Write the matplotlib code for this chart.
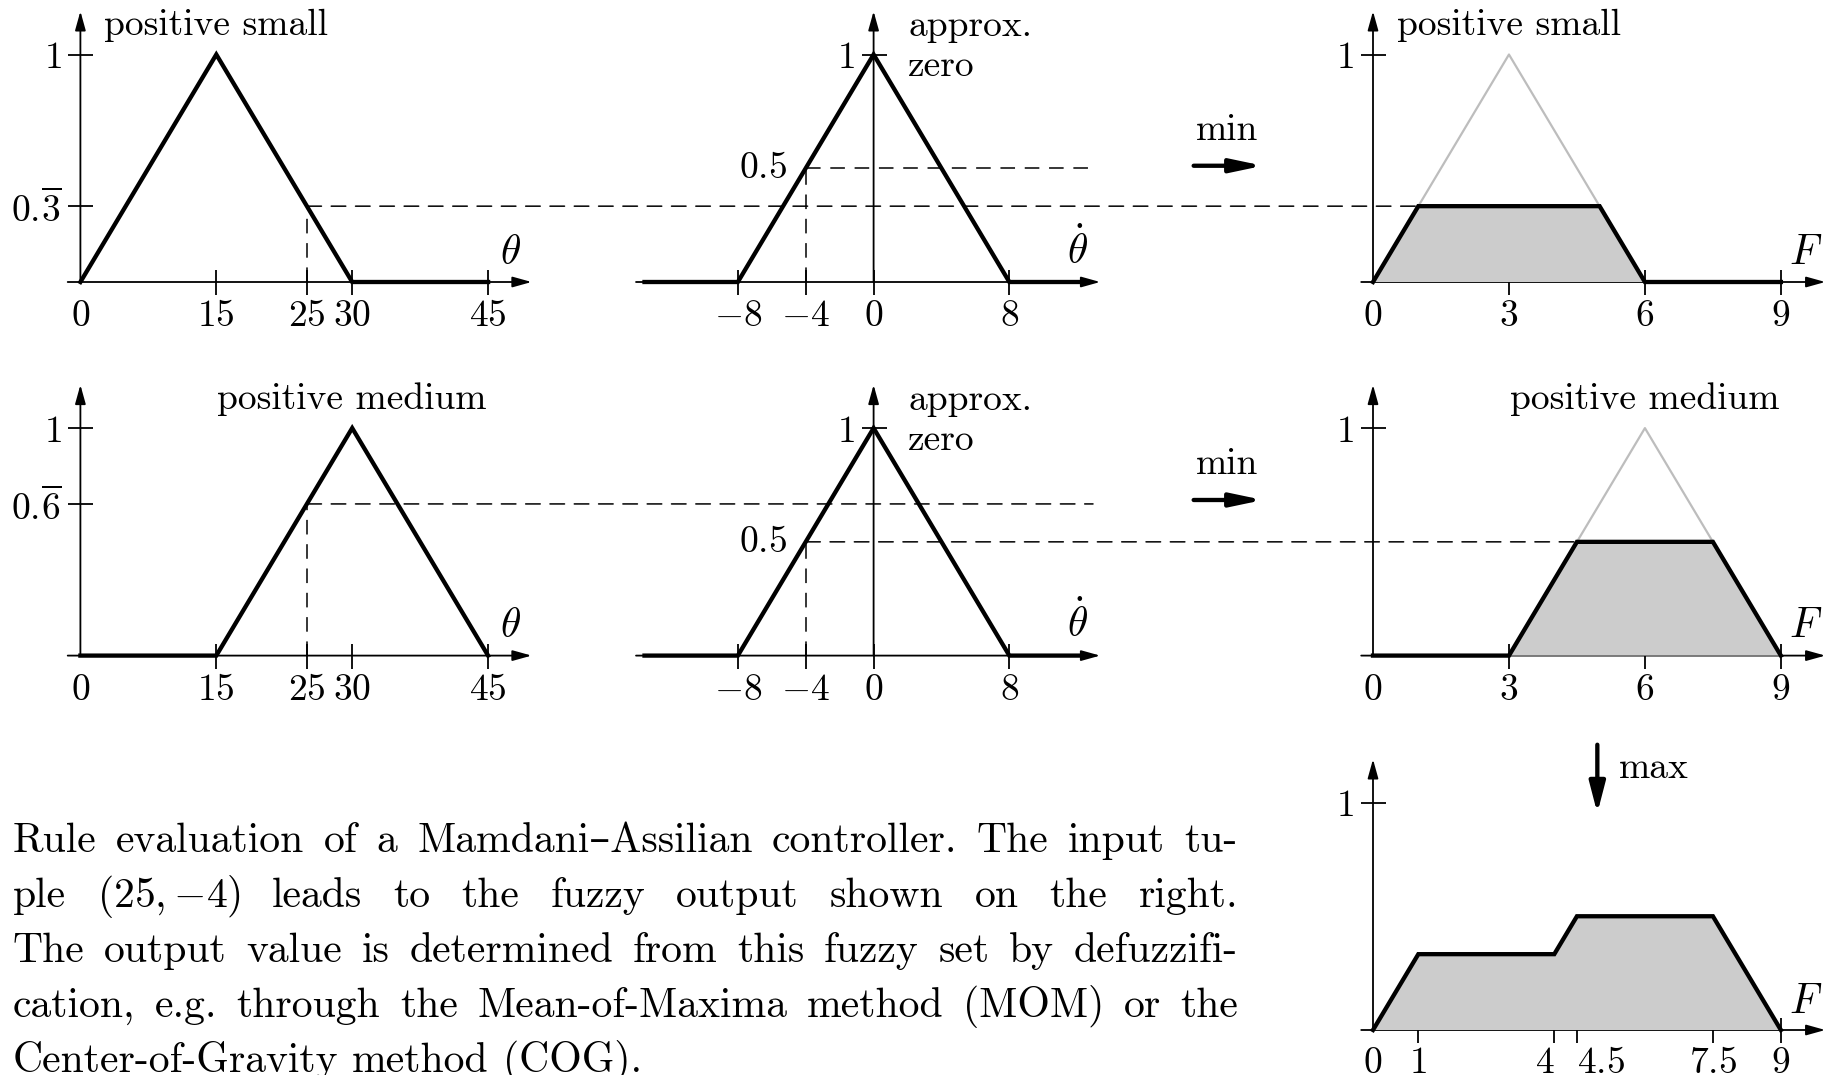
import matplotlib
matplotlib.use("Agg")
import matplotlib.pyplot as plt
from matplotlib.patches import ConnectionPatch

plt.rcParams["mathtext.fontset"] = "cm"
plt.rcParams["lines.scale_dashes"] = False
plt.rcParams["axes.unicode_minus"] = False

# ---------------------------------------------------------------- data
theta_ticks = [0, 15, 25, 30, 45]
theta_labels = ["0", "15", "25", "30", "45"]
dtheta_ticks = [-8, -4, 0, 8]
dtheta_labels = ["-8", "-4", "0", "8"]
F_ticks = [0, 3, 6, 9]
F_labels = ["0", "3", "6", "9"]
agg_ticks = [0, 1, 4, 4.5, 7.5, 9]
agg_labels = ["0", "1", "4", "4.5", "7.5", "9"]

# membership functions of the inputs
ps_theta_x = [0, 15, 30, 45]
ps_theta_mu = [0, 1, 0, 0]
pm_theta_x = [0, 15, 30, 45]
pm_theta_mu = [0, 0, 1, 0]
az_dtheta_x = [-13.5, -8, 0, 8, 12.4]
az_dtheta_mu = [0, 0, 1, 0, 0]

# output fuzzy sets (full) and their clipped versions
ps_F_x = [0, 3, 6]
ps_F_mu = [0, 1, 0]
pm_F_x = [3, 6, 9]
pm_F_mu = [0, 1, 0]
ps_clip_x = [0, 1, 5, 6, 9]
ps_clip_mu = [0, 1 / 3, 1 / 3, 0, 0]
pm_clip_x = [0, 3, 4.5, 7.5, 9]
pm_clip_mu = [0, 0, 0.5, 0.5, 0]

# aggregated output
agg_x = [0, 1, 4, 4.5, 7.5, 9]
agg_mu = [0, 1 / 3, 1 / 3, 0.5, 0.5, 0]

# crisp inputs and resulting membership degrees
theta_in = 25
dtheta_in = -4
mu_ps = 1 / 3
mu_pm = 2 / 3
mu_az = 0.5

caption_lines = [
    "Rule evaluation of a Mamdani\u2013Assilian controller. The input tu-",
    "ple $(25,{-4})$ leads to the fuzzy output shown on the right.",
    "The output value is determined from this fuzzy set by defuzzifi-",
    "cation, e.g. through the Mean-of-Maxima method (MOM) or the",
    "Center-of-Gravity method (COG).",
]

# ---------------------------------------------------------------- style
W, H = 1833, 1075
PY = 227.5          # pixels per unit membership
YTOP = 1.19         # tip of the vertical arrows
LBL = 27            # label font size
VAR = 30            # variable font size
THICK = 3.1
AXLW = 1.3
DASH = (0, (10.5, 7.0))
DLW = 1.1
RM = ["cmr10", "DejaVu Serif"]

fig = plt.figure(figsize=(W / 100, H / 100), dpi=100)


def panel(x0, y0, sx, xlim, ylim=(-0.05, 1.22)):
    left = (x0 + xlim[0] * sx) / W
    width = (xlim[1] - xlim[0]) * sx / W
    bottom = 1 - (y0 - ylim[0] * PY) / H
    height = (ylim[1] - ylim[0]) * PY / H
    ax = fig.add_axes([left, bottom, width, height])
    ax.set_xlim(xlim)
    ax.set_ylim(ylim)
    ax.patch.set_visible(False)
    for s in ax.spines.values():
        s.set_visible(False)
    ax.spines["left"].set_position(("data", 0))
    ax.spines["bottom"].set_position(("data", 0))
    ax.xaxis.set_ticks_position("bottom")
    ax.yaxis.set_ticks_position("left")
    ax.tick_params(direction="inout", length=18, width=AXLW, labelsize=LBL,
                   colors="k")
    ax.tick_params(axis="x", pad=2.5)
    ax.tick_params(axis="y", pad=4.5)
    arrow = dict(arrowstyle="-|>,head_length=1.15,head_width=0.32",
                 lw=AXLW, color="k", shrinkA=0, shrinkB=0, mutation_scale=10)
    ax.annotate("", xy=(xlim[1], 0), xytext=(xlim[0], 0), arrowprops=arrow,
                annotation_clip=False)
    ax.annotate("", xy=(0, YTOP), xytext=(0, 0), arrowprops=arrow,
                annotation_clip=False)
    return ax


def set_ticks(ax, xt, xl, yt, yl, hide_zero=True):
    ax.set_xticks(xt, ["$%s$" % s for s in xl])
    ax.set_yticks(yt, ["$%s$" % s for s in yl])
    if hide_zero:
        for tick, v in zip(ax.xaxis.get_major_ticks(), xt):
            if v == 0:
                tick.tick1line.set_visible(False)


def curve(ax, x, y, **kw):
    ax.plot(x, y, color="k", lw=THICK, clip_on=False, zorder=4,
            solid_joinstyle="miter", **kw)


def dashed(ax, x, y):
    ax.plot(x, y, color="k", lw=DLW, ls=DASH, clip_on=False, zorder=2)


def link(axA, pA, axB, pB):
    con = ConnectionPatch(xyA=pA, coordsA=axA.transData, xyB=pB,
                          coordsB=axB.transData, color="k", lw=DLW,
                          linestyle=DASH, zorder=2)
    fig.add_artist(con)


def clipped(ax, fx, fmu, cx, cmu):
    ax.plot(fx, fmu, color="#bdbdbd", lw=1.6, clip_on=False, zorder=2)
    ax.fill(cx, cmu, color="#cccccc", lw=0, clip_on=False, zorder=3)
    curve(ax, cx, cmu)


def min_arrow(ax, y):
    ax.annotate("", xy=(22.95, y), xytext=(18.86, y),
                arrowprops=dict(arrowstyle="-|>,head_length=1.9,head_width=0.4",
                                lw=THICK, color="k", shrinkA=0, shrinkB=0,
                                mutation_scale=10), annotation_clip=False)


XA, SA, LA = 80.4, 9.06, (-1.4, 49.8)
XB, SB, LB = 873.6, 16.97, (-14.0, 13.35)
XC, SC, LC = 1373.0, 45.32, (-0.26, 9.98)
ROWS = [282.0, 655.6, 1030.0]

# ---------------------------------------------------------------- row 1
a1 = panel(XA, ROWS[0], SA, LA)
set_ticks(a1, theta_ticks, theta_labels, [1, mu_ps],
          ["1", r"0.\!\overline{3}"])
curve(a1, ps_theta_x, ps_theta_mu)
dashed(a1, [theta_in, theta_in], [0, mu_ps])
a1.text(15, 1.085, "positive small", family=RM, fontsize=LBL, ha="center",
        va="baseline")
a1.text(46.3, 0.08, r"$\theta$", fontsize=VAR, ha="left", va="baseline")

b1 = panel(XB, ROWS[0], SB, LB)
set_ticks(b1, dtheta_ticks, dtheta_labels, [1], ["1"], hide_zero=False)
curve(b1, az_dtheta_x, az_dtheta_mu)
dashed(b1, [dtheta_in, dtheta_in], [0, mu_az])
dashed(b1, [dtheta_in, 12.93], [mu_az, mu_az])
b1.text(-5.1, mu_az, "$0.5$", fontsize=LBL, ha="right", va="center")
b1.text(2.03, 1.08, "approx.", family=RM, fontsize=LBL, va="baseline")
b1.text(2.03, 0.905, "zero", family=RM, fontsize=LBL, va="baseline")
b1.text(11.37, 0.08, r"$\dot{\theta}$", fontsize=VAR, ha="left",
        va="baseline")
b1.text(20.8, 0.624, "min", family=RM, fontsize=LBL, ha="center",
        va="baseline")
min_arrow(b1, 0.511)

c1 = panel(XC, ROWS[0], SC, LC)
set_ticks(c1, F_ticks, F_labels, [1], ["1"])
clipped(c1, ps_F_x, ps_F_mu, ps_clip_x, ps_clip_mu)
c1.text(3, 1.085, "positive small", family=RM, fontsize=LBL, ha="center",
        va="baseline")
c1.text(9.19, 0.08, "$F$", fontsize=VAR, ha="left", va="baseline")

link(a1, (theta_in, mu_ps), c1, (ps_clip_x[1], mu_ps))

# ---------------------------------------------------------------- row 2
a2 = panel(XA, ROWS[1], SA, LA)
set_ticks(a2, theta_ticks, theta_labels, [1, mu_pm],
          ["1", r"0.\!\overline{6}"])
curve(a2, pm_theta_x, pm_theta_mu)
dashed(a2, [theta_in, theta_in], [0, mu_pm])
a2.text(30, 1.085, "positive medium", family=RM, fontsize=LBL, ha="center",
        va="baseline")
a2.text(46.3, 0.08, r"$\theta$", fontsize=VAR, ha="left", va="baseline")

b2 = panel(XB, ROWS[1], SB, LB)
set_ticks(b2, dtheta_ticks, dtheta_labels, [1], ["1"], hide_zero=False)
curve(b2, az_dtheta_x, az_dtheta_mu)
dashed(b2, [dtheta_in, dtheta_in], [0, mu_az])
b2.text(-5.1, mu_az, "$0.5$", fontsize=LBL, ha="right", va="center")
b2.text(2.03, 1.08, "approx.", family=RM, fontsize=LBL, va="baseline")
b2.text(2.03, 0.905, "zero", family=RM, fontsize=LBL, va="baseline")
b2.text(11.37, 0.08, r"$\dot{\theta}$", fontsize=VAR, ha="left",
        va="baseline")
b2.text(20.8, 0.798, "min", family=RM, fontsize=LBL, ha="center",
        va="baseline")
min_arrow(b2, 0.684)

c2 = panel(XC, ROWS[1], SC, LC)
set_ticks(c2, F_ticks, F_labels, [1], ["1"])
clipped(c2, pm_F_x, pm_F_mu, pm_clip_x, pm_clip_mu)
c2.text(6, 1.085, "positive medium", family=RM, fontsize=LBL, ha="center",
        va="baseline")
c2.text(9.19, 0.08, "$F$", fontsize=VAR, ha="left", va="baseline")

link(a2, (theta_in, mu_pm), b2, (12.93, mu_pm))
link(b2, (dtheta_in, mu_az), c2, (pm_clip_x[2], mu_az))

# ---------------------------------------------------------------- row 3
c3 = panel(XC, ROWS[2], SC, LC)
set_ticks(c3, agg_ticks, agg_labels, [1], ["1"])
c3.tick_params(axis="x", pad=1.5)
for lbl, v in zip(c3.get_xticklabels(), agg_ticks):
    if v == 4:
        lbl.set_ha("right")
    elif v == 4.5:
        lbl.set_ha("left")
c3.fill(agg_x, agg_mu, color="#cccccc", lw=0, clip_on=False, zorder=3)
curve(c3, agg_x, agg_mu)
c3.text(9.19, 0.075, "$F$", fontsize=VAR, ha="left", va="baseline")
c3.annotate("", xy=(4.95, 0.953), xytext=(4.95, 1.254),
            arrowprops=dict(arrowstyle="-|>,head_length=1.85,head_width=0.48",
                            lw=THICK, color="k", shrinkA=0, shrinkB=0,
                            mutation_scale=10), annotation_clip=False)
c3.text(5.42, 1.107, "max", family=RM, fontsize=LBL, ha="left",
        va="baseline")

# ---------------------------------------------------------------- caption
CAP = 30
cap_left, cap_right = 12.8, 1238.0
cap_base = [851.5, 906.8, 962.0, 1017.0, 1072.0]
renderer = fig.canvas.get_renderer()
for i, (line, yb) in enumerate(zip(caption_lines, cap_base)):
    words = line.split(" ")
    texts = [fig.text(0, 1 - yb / H, w, family=RM, fontsize=CAP,
                      ha="left", va="baseline") for w in words]
    widths = [t.get_window_extent(renderer).width for t in texts]
    if i < len(caption_lines) - 1:
        gap = (cap_right - cap_left - sum(widths)) / (len(words) - 1)
    else:
        gap = 0.333 * CAP * 100 / 72
    x = cap_left
    for t, w in zip(texts, widths):
        t.set_x(x / W)
        x += w + gap

fig.savefig("out.png", dpi=100)
